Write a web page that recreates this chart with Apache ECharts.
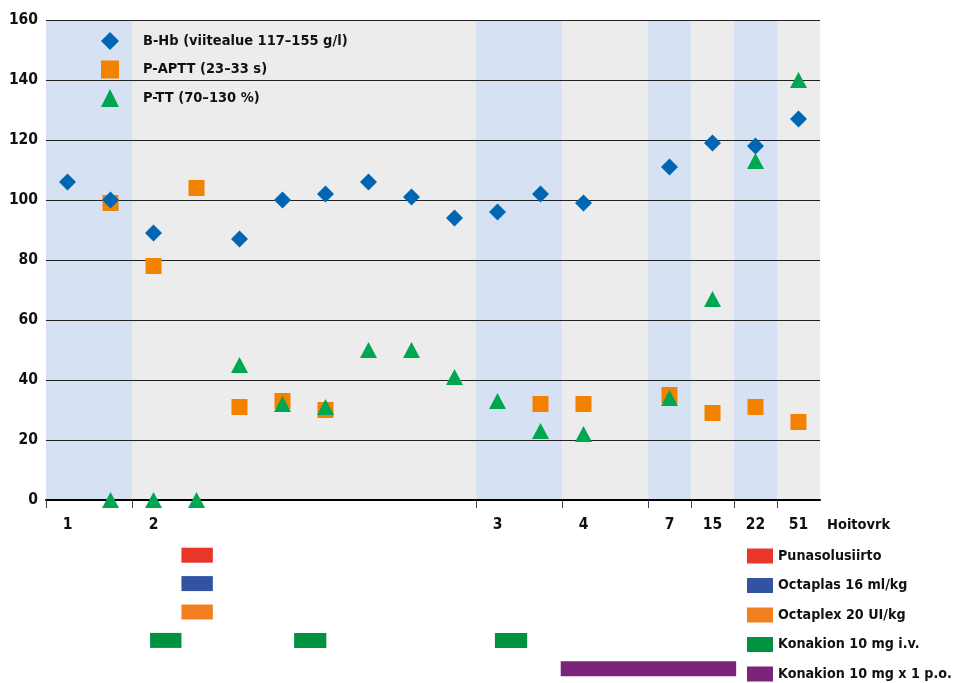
<!DOCTYPE html>
<html>
<head>
<meta charset="utf-8">
<script src="https://cdn.jsdelivr.net/npm/echarts@6/dist/echarts.min.js"></script>
<style>html,body{margin:0;padding:0;background:#fff;}#c{width:954px;height:683px;}</style>
</head>
<body>
<div id="c"></div>
<script>
// ---- data ----
const slotLabels = ['1','','2','','','','','','','','3','','4','','7','15','22','51'];
const hbValues   = [106,100,89,null,87,100,102,106,101,94,96,102,99,null,111,119,118,127];
const apttValues = [null,99,78,104,31,33,30,null,null,null,null,32,32,null,35,29,31,26];
const ttValues   = [null,0,0,0,45,32,31,50,50,41,33,23,22,null,34,67,113,140];
const blueBands  = [[0,2],[10,12],[14,15],[16,17]];
const seriesNames = ['B-Hb (viitealue 117–155 g/l)','P-APTT (23–33 s)','P-TT (70–130 %)'];

const treatmentNames = ['Punasolusiirto','Octaplas 16 ml/kg','Octaplex 20 UI/kg','Konakion 10 mg i.v.','Konakion 10 mg x 1 p.o.'];
const treatmentPeriods = [
  [[3.15,3.88]],
  [[3.15,3.88]],
  [[3.15,3.88]],
  [[2.42,3.15],[5.77,6.52],[10.44,11.19]],
  [[11.97,16.05]]
];
const treatmentColors = ['#e8362a','#3153a2','#f28020','#00923f','#7b2378'];

const FONT = "'Liberation Sans Narrow','DejaVu Sans Condensed',sans-serif";
const nSlots = slotLabels.length;
const labelSlots = slotLabels.map((l,i)=>l!==''?i:-1).filter(i=>i>=0);

function pts(vals){ return vals.map((v,i)=>v==null?null:[i+0.5,v]).filter(p=>p); }

const chart = echarts.init(document.getElementById('c'), null, {renderer:'canvas'});

const treatmentSeries = treatmentNames.map((name,row)=>({
  type:'custom', name: name, xAxisIndex:1, yAxisIndex:1,
  data: treatmentPeriods[row].map(p=>[p[0],p[1],row]),
  itemStyle:{color:treatmentColors[row]},
  renderItem:function(params, api){
    const s = api.coord([api.value(0), api.value(2)]);
    const e = api.coord([api.value(1), api.value(2)]);
    const h = 15;
    return {type:'rect', shape:{x:s[0], y:s[1]-h/2, width:e[0]-s[0], height:h},
            style:{fill:treatmentColors[row]}};
  },
  silent:true
}));

const option = {
  animation:false,
  textStyle:{fontFamily:FONT},
  grid:[
    {left:46, right:134, top:20, bottom:183, show:true, backgroundColor:'#ececec', borderWidth:0},
    {left:46, right:134, top:541, height:147.5, show:false}
  ],
  xAxis:[
    {type:'value', gridIndex:0, min:0, max:nSlots, z:1.5,
     axisLine:{show:true, onZero:false, lineStyle:{color:'#000', width:2}},
     axisTick:{show:true, length:8, lineStyle:{color:'#444', width:1}, customValues: labelSlots},
     axisLabel:{show:true, margin:17, fontSize:15.5, fontWeight:'bold', color:'#111', fontFamily:FONT,
       customValues: labelSlots.map(i=>i+0.5),
       formatter:function(v){ return slotLabels[Math.floor(v)]; }},
     splitLine:{show:false},
     name:'Hoitovrk', nameLocation:'end', nameGap:7,
     nameTextStyle:{fontSize:14.5, fontWeight:'bold', color:'#111', fontFamily:FONT, verticalAlign:'top', lineHeight:50}
    },
    {type:'value', gridIndex:1, min:0, max:nSlots, show:false}
  ],
  yAxis:[
    {type:'value', gridIndex:0, min:0, max:160, interval:20, z:1.5,
     axisLine:{show:false}, axisTick:{show:false},
     axisLabel:{margin:8, fontSize:15.5, fontWeight:'bold', color:'#111', fontFamily:FONT},
     splitLine:{show:true, lineStyle:{color:'#222', width:1}}
    },
    {type:'value', gridIndex:1, min:-0.5, max:4.5, inverse:true, show:false}
  ],
  legend:[
    {data:seriesNames, orient:'vertical', left:101, top:32, itemWidth:18, itemHeight:18, itemGap:10.5, padding:0,
     selectedMode:false, symbolKeepAspect:true,
     textStyle:{fontSize:14.5, fontWeight:'bold', color:'#111', fontFamily:FONT, padding:[0,0,0,19]}},
    {data:treatmentNames, orient:'vertical', left:747, top:548.5, itemWidth:26, itemHeight:15, itemGap:14.5, padding:0,
     icon:'rect', selectedMode:false,
     textStyle:{fontSize:14.2, fontWeight:'bold', color:'#111', fontFamily:FONT}}
  ],
  series:[
    {type:'line', name:'bands', data:[], xAxisIndex:0, yAxisIndex:0, silent:true,
     markArea:{silent:true, z:1, itemStyle:{color:'#d6e1f3'},
       data: blueBands.map(b=>[{xAxis:b[0]},{xAxis:b[1]}])}},
    {type:'scatter', name:seriesNames[0], data:pts(hbValues), symbol:'diamond', symbolSize:17, z:5,
     itemStyle:{color:'#0066b3', opacity:1}},
    {type:'scatter', name:seriesNames[1], data:pts(apttValues), symbol:'rect', symbolSize:16, z:3,
     itemStyle:{color:'#f28200', opacity:1}},
    {type:'scatter', name:seriesNames[2], data:pts(ttValues), symbol:'triangle', symbolSize:[17,16], z:4,
     itemStyle:{color:'#00a651', opacity:1}}
  ].concat(treatmentSeries)
};
chart.setOption(option);
</script>
</body>
</html>
